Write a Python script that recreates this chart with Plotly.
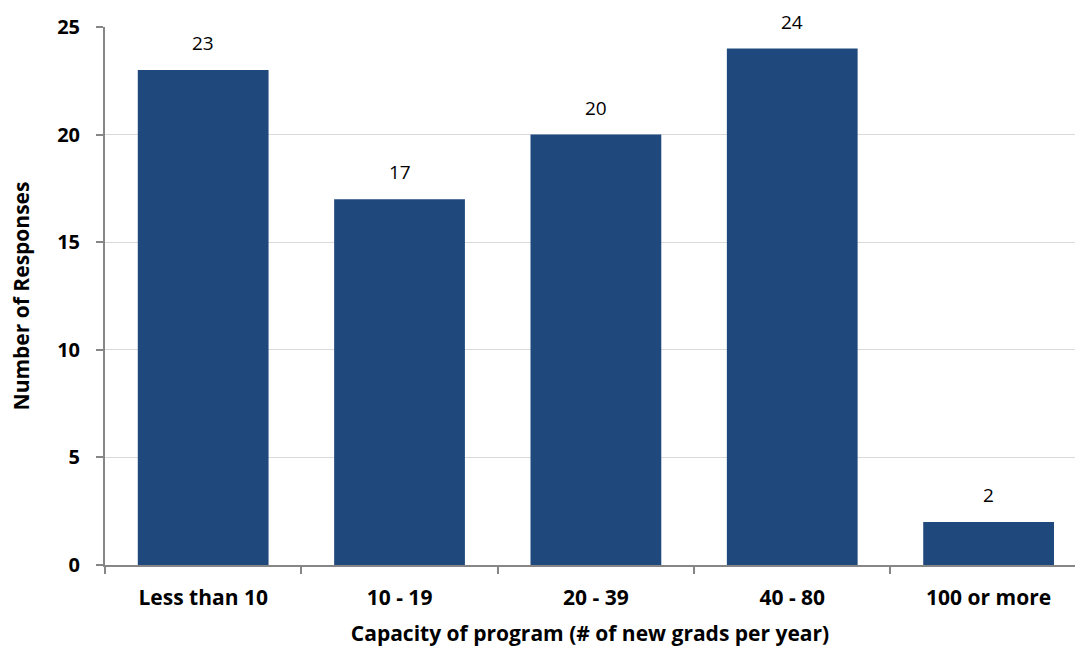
import plotly.graph_objects as go

categories = ["Less than 10", "10 - 19", "20 - 39", "40 - 80", "100 or more"]
responses = [23, 17, 20, 24, 2]
y_ticks = [0, 5, 10, 15, 20, 25]

bar_color = "#1F497D"
axis_color = "#868686"
grid_color = "#D9D9D9"
font_family = "'Open Sans', Lato, sans-serif"

fig = go.Figure(
    go.Bar(
        x=categories,
        y=responses,
        marker=dict(color=bar_color, line=dict(width=0)),
        showlegend=False,
    )
)

# Value labels sitting above each bar
for cat, val in zip(categories, responses):
    fig.add_annotation(
        x=cat,
        y=val,
        text=str(val),
        showarrow=False,
        yanchor="bottom",
        yshift=12,
        font=dict(family=font_family, size=19, color="#000000"),
    )

fig.update_layout(
    width=1075,
    height=649,
    margin=dict(l=105, r=0, t=27, b=84),
    paper_bgcolor="white",
    plot_bgcolor="white",
    bargap=0.334,
    showlegend=False,
    font=dict(family=font_family, color="#000000"),
)

fig.update_xaxes(
    range=[-0.5, 4.44],
    showline=True,
    linecolor=axis_color,
    linewidth=2,
    ticks="outside",
    tickson="boundaries",
    ticklen=7,
    tickcolor=axis_color,
    tickwidth=2,
    ticklabelstandoff=13,
    tickfont=dict(family=font_family, size=21, color="#000000", weight="bold"),
    title=dict(
        text="Capacity of program (# of new grads per year)",
        font=dict(family=font_family, size=21, color="#000000", weight="bold"),
        standoff=16,
    ),
)

fig.update_yaxes(
    range=[0, 25],
    tickvals=y_ticks,
    showline=True,
    linecolor=axis_color,
    linewidth=2,
    ticks="outside",
    ticklen=7,
    tickcolor=axis_color,
    tickwidth=2,
    ticklabelstandoff=12,
    showgrid=True,
    gridcolor=grid_color,
    gridwidth=1,
    zeroline=False,
    tickfont=dict(family=font_family, size=20, color="#000000", weight="bold"),
    title=dict(
        text="Number of Responses",
        font=dict(family=font_family, size=21, color="#000000", weight="bold"),
        standoff=22,
    ),
)

fig.write_html("out.html")
